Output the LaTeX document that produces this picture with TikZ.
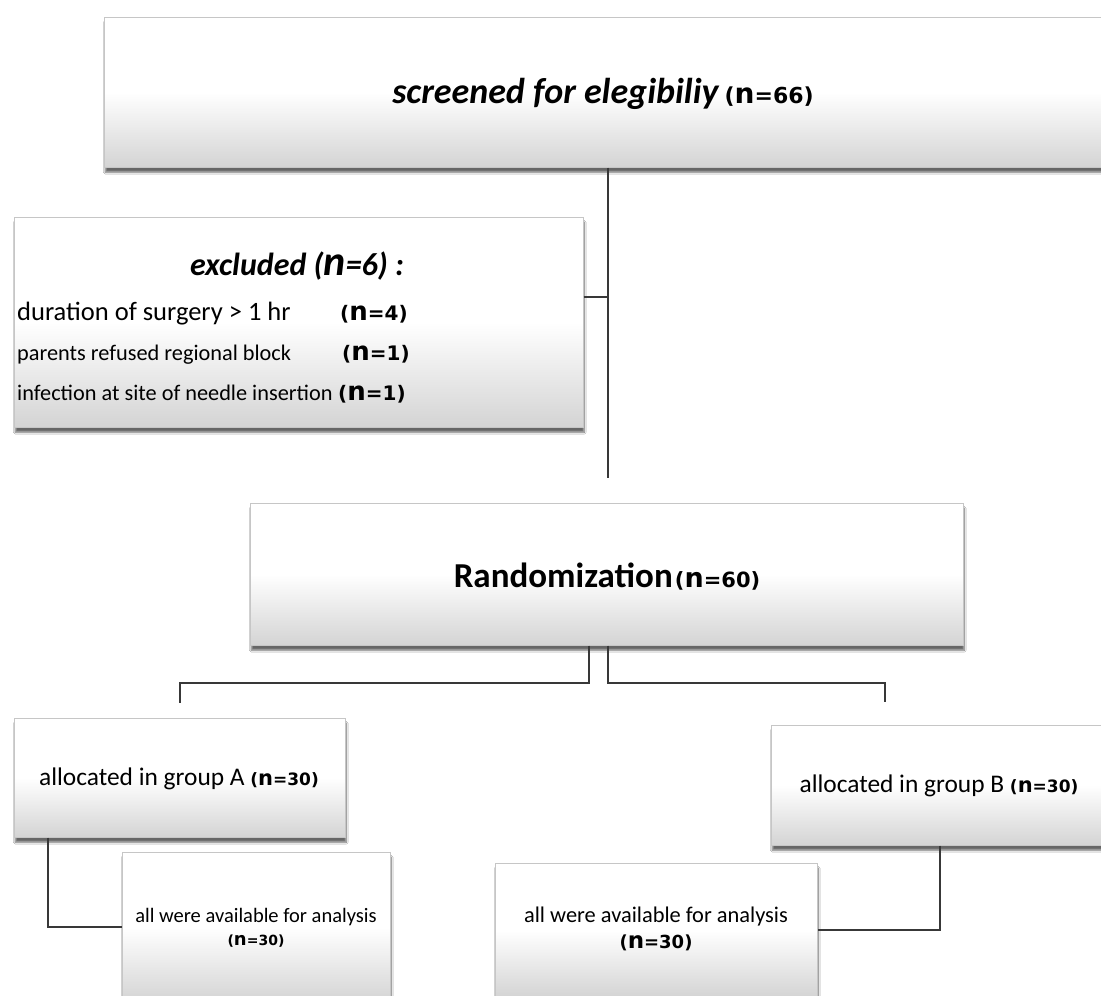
\documentclass[tikz,border=0pt]{standalone}
\usepackage{fontspec}
\setmainfont{Carlito}
\newfontfamily\nfont{DejaVu Sans}
\usetikzlibrary{shadows.blur}
\newcommand\fsz[1]{\fontsize{#1}{#1}\selectfont}
% (n=..) label: #1 base size, #2 size of n, #3 number
\newcommand\nlab[3]{{\nfont\bfseries\fsz{#1}(\fsz{#2}n\fsz{#1}=#3)}}
\tikzset{
  fbox/.style={draw=gray!45, line width=0.6pt, rectangle, anchor=north west, inner sep=0pt,
    top color=white, bottom color=gray!34, middle color=white,
    blur shadow={shadow xshift=1pt, shadow yshift=-5pt, shadow blur steps=8, shadow opacity=60}},
  txt/.style={anchor=base, inner sep=0pt, text=black},
  txtl/.style={anchor=base west, inner sep=0pt, text=black},
  conn/.style={draw=black!78, line width=2pt}
}
\begin{document}
\begin{tikzpicture}[x=1pt, y=-1pt]
\useasboundingbox (0,0) rectangle (1101,996);
\clip (0,0) rectangle (1101,996);
\fill[white] (0,0) rectangle (1101,996);
% boxes
\node[fbox, minimum width=1006pt, minimum height=150pt] (top) at (104,17) {};
\node[fbox, minimum width=569pt, minimum height=210pt] (excl) at (14,217) {};
\node[fbox, minimum width=713pt, minimum height=142pt] (rand) at (250,503) {};
\node[fbox, minimum width=331pt, minimum height=119pt] (gA) at (14,718) {};
\node[fbox, minimum width=339pt, minimum height=120pt] (gB) at (771,725) {};
\node[fbox, minimum width=268pt, minimum height=150pt] (anA) at (122,852) {};
\node[fbox, minimum width=322pt, minimum height=134pt] (anB) at (495,863) {};
% texts
\node[txt] (ttop) at (603,103) {{\fsz{36}\bfseries\itshape screened for elegibiliy}\hspace{6pt}\nlab{22}{28}{66}};
\node[txt] (texcl) at (297,275) {\fsz{32}\bfseries\itshape excluded ({\fsz{42}n}=6) :};
\node[txtl] (e1) at (17,320) {\fsz{26.5}duration of surgery > 1 hr};
\node[txtl] (e1n) at (340,320) {\nlab{20}{26}{4}};
\node[txtl] (e2) at (17,360) {\fsz{22.3}parents refused regional block};
\node[txtl] (e2n) at (342,360) {\nlab{20}{26}{1}};
\node[txtl] (e3) at (17,400) {\fsz{22.3}infection at site of needle insertion};
\node[txtl] (e3n) at (338,400) {\nlab{20}{26}{1}};
\node[txt] (trand) at (607,587) {{\fsz{35}\bfseries Randomization} \nlab{21}{27}{60}};
\node[txt] (tgA) at (179,785) {\fsz{25.4}allocated in group A \nlab{17}{21}{30}};
\node[txt] (tgB) at (939,792) {\fsz{25.4}allocated in group B \nlab{17}{21}{30}};
\node[txt] (tanA1) at (256,922) {\fsz{20.5}all were available for analysis};
\node[txt] (tanA2) at (256,945) {\nlab{14}{18}{30}};
\node[txt] (tanB1) at (656,922) {\fsz{22.4}all were available for analysis};
\node[txt] (tanB2) at (656,948) {\nlab{18}{23}{30}};
% connectors
\coordinate (c1) at (608,478);
\coordinate (cA) at (180,703);
\coordinate (cB) at (885,702);
\draw[conn] (top.south -| c1) -- (c1);
\draw[conn] ([yshift=25pt]excl.east) -- ([yshift=25pt]excl.east -| c1);
\draw[conn] ([xshift=-18pt]rand.south) -- ++(0,37) -| (cA);
\draw[conn] ([xshift=1pt]rand.south) -- ++(0,37) -| (cB);
\draw[conn] ([xshift=34pt]gA.south west) |- (anA.west |- 0,927);
\draw[conn] ([xshift=169pt]gB.south west) |- (anB.east |- 0,930);
\end{tikzpicture}
\end{document}
